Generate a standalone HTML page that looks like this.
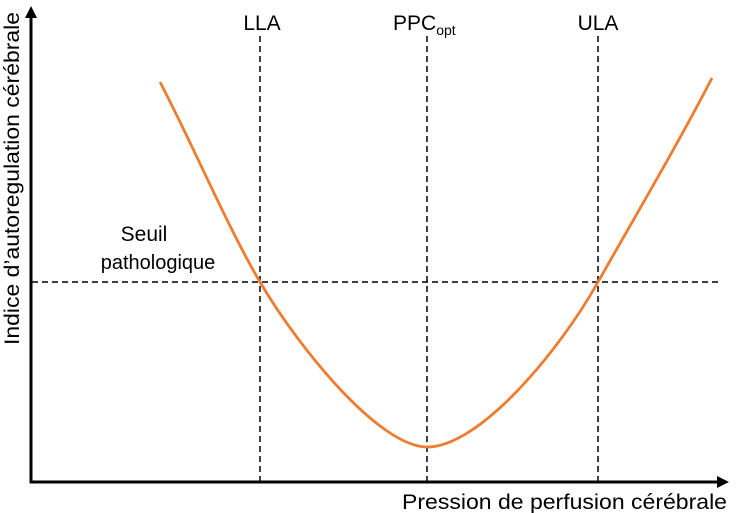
<!DOCTYPE html>
<html><head><meta charset="utf-8"><style>
html,body{margin:0;padding:0;background:#fff;}
svg{display:block;}
text{font-family:"Liberation Sans",sans-serif;fill:#000;}
</style></head><body>
<svg width="736" height="513" viewBox="0 0 736 513" xmlns="http://www.w3.org/2000/svg">
<g stroke="#000" stroke-width="1.5" stroke-dasharray="6,4" fill="none">
<line x1="260" y1="36" x2="260" y2="481"/>
<line x1="427" y1="36" x2="427" y2="481"/>
<line x1="598" y1="36" x2="598" y2="481"/>
<line x1="32" y1="282" x2="722" y2="282"/>
</g>
<path d="M160,82 C193,145 227,226 260,282 C300,350 380,447 427,447 C480,447 560,350 598,282 C640,208 680,140 712,78" fill="none" stroke="#ED7D31" stroke-width="2.8"/>
<line x1="31" y1="483" x2="31" y2="14" stroke="#000" stroke-width="3"/>
<polygon points="31,6 25,18 37,18" fill="#000"/>
<line x1="30" y1="482" x2="720" y2="482" stroke="#000" stroke-width="3"/>
<polygon points="729,482 717,476 717,488" fill="#000"/>
<text x="262" y="30" font-size="21" text-anchor="middle">LLA</text>
<text x="393" y="30" font-size="21">PPC<tspan font-size="14" dy="5">opt</tspan></text>
<text x="598" y="30" font-size="21" text-anchor="middle">ULA</text>
<text x="144" y="241" font-size="21" text-anchor="middle">Seuil</text>
<text x="158" y="269" font-size="20" text-anchor="middle">pathologique</text>
<text x="402" y="509" font-size="21" textLength="325" lengthAdjust="spacingAndGlyphs">Pression de perfusion cérébrale</text>
<text transform="translate(19,345) rotate(-90)" font-size="21" textLength="333" lengthAdjust="spacingAndGlyphs">Indice d’autoregulation cérébrale</text>
</svg>
</body></html>
